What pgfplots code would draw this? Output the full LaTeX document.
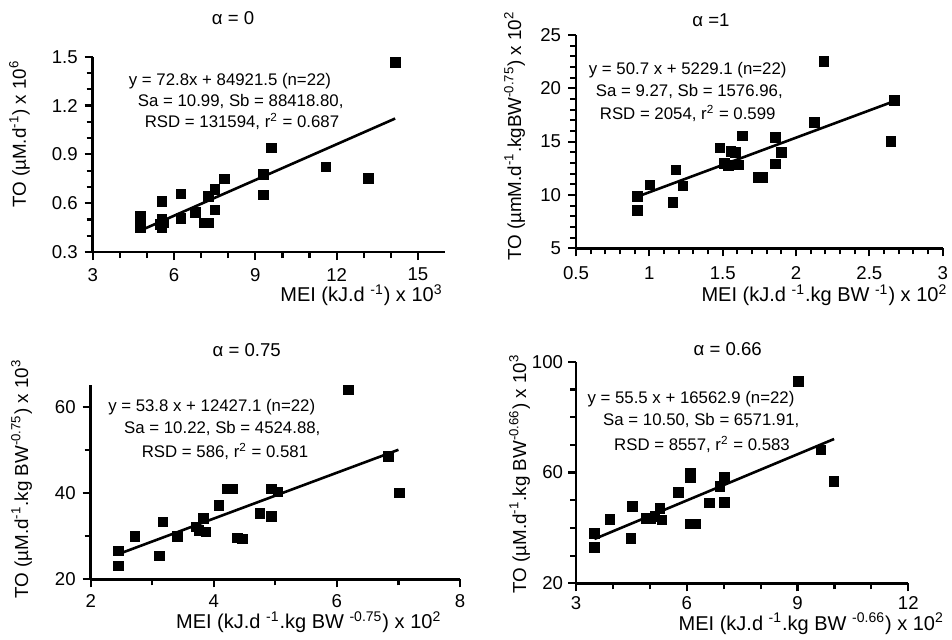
\documentclass[border=0pt]{standalone}
\usepackage{pgfplots}
\pgfplotsset{compat=1.18}
\usepackage{fontspec}
\setmainfont{Liberation Sans}

\newcommand{\ticksize}{\fontsize{9.3}{11}\selectfont}
\newcommand{\labsize}{\fontsize{10}{12}\selectfont}
\newcommand{\ylabsize}{\fontsize{9.4}{11}\selectfont}
\newcommand{\notesize}{\fontsize{8.4}{10}\selectfont}
\newcommand{\sups}[1]{\textsuperscript{#1}}

\pgfplotsset{
  panel/.style={
    scale only axis, anchor=south west, clip=false,
    axis lines=left, axis line style={-, line width=1.3pt},
    tick align=outside, major tick length=4pt, minor tick length=3pt,
    tick style={line width=1.1pt, black},
    tick label style={font=\ticksize},
    /pgf/number format/assume math mode=true,
    enlargelimits=false,
  },
  pts/.style={only marks, mark=square*, mark size=2.4pt, black, mark options={draw=none, fill=black}},
  fit/.style={no marks, black, line width=1.3pt},
}

\begin{document}
\begin{tikzpicture}
\useasboundingbox (0,0) rectangle (476pt,319.5pt);

% alpha = 0
\begin{axis}[panel, at={(46.35pt,193.5pt)}, width=176.15pt, height=97.65pt,
  xmin=3, xmax=16, ymin=0.3, ymax=1.5,
  xtick={3,6,9,12,15}, ytick={0.3,0.6,0.9,1.2,1.5},
  minor x tick num=2, minor y tick num=2,
  x tick label style={yshift=-0.5pt}]
\addplot[pts] coordinates {
  (4.77,0.517) (4.77,0.45) (5.55,0.61) (5.55,0.50) (5.50,0.47) (5.55,0.45)
  (5.60,0.48) (6.26,0.656) (6.26,0.507) (6.80,0.544) (7.12,0.48) (7.27,0.48)
  (7.27,0.64) (7.51,0.685) (7.51,0.558) (7.86,0.749) (9.30,0.775) (9.30,0.65)
  (9.60,0.94) (11.6,0.824) (13.17,0.753) (14.16,1.465) };
\addplot[fit] coordinates { (4.87,0.44) (14.16,1.12) };
\end{axis}

% alpha = 1
\begin{axis}[panel, at={(288pt,195.35pt)}, width=183.35pt, height=106.65pt,
  xmin=0.5, xmax=3, ymin=5, ymax=25,
  xtick={0.5,1,1.5,2,2.5,3}, ytick={5,10,15,20,25},
  minor x tick num=4, minor y tick num=4,
  x tick label style={yshift=-1.5pt}]
\addplot[pts] coordinates {
  (0.918,9.84) (0.918,8.53) (1.005,10.94) (1.16,9.28) (1.18,12.34) (1.23,10.84)
  (1.48,14.4) (1.51,12.97) (1.54,12.75) (1.557,14.06) (1.586,13.97) (1.607,12.81)
  (1.636,15.53) (1.74,11.63) (1.77,11.63) (1.86,15.38) (1.86,12.9) (1.90,13.97)
  (2.127,16.8) (2.19,22.5) (2.67,18.84) (2.648,15.0) };
\addplot[fit] coordinates { (0.918,9.84) (2.67,18.8) };
\end{axis}

% alpha = 0.75
\begin{axis}[panel, at={(45.35pt,29.85pt)}, width=184.65pt, height=97.15pt,
  xmin=2, xmax=8, ymin=20, ymax=65,
  xtick={2,4,6,8}, ytick={20,40,60},
  minor x tick num=1, minor y tick num=1]
\addplot[pts] coordinates {
  (2.45,26.6) (2.45,23.1) (2.72,30.0) (3.12,25.4) (3.17,33.3) (3.41,30.0)
  (3.71,32.1) (3.76,31.3) (3.83,34.1) (3.87,31.0) (4.08,37.1) (4.21,40.9)
  (4.30,40.9) (4.38,29.6) (4.46,29.4) (4.75,35.2) (4.94,40.9) (4.94,34.6)
  (5.04,40.2) (6.19,63.9) (6.84,48.4) (7.02,40.0) };
\addplot[fit] coordinates { (2.48,26.0) (7.0,50.0) };
\end{axis}

% alpha = 0.66
\begin{axis}[panel, at={(288pt,27.85pt)}, width=166.15pt, height=110.8pt,
  xmin=3, xmax=12, ymin=20, ymax=100,
  xtick={3,6,9,12}, ytick={20,60,100},
  minor x tick num=2, minor y tick num=3,
  x tick label style={yshift=1pt}, y tick label style={xshift=1pt}]
\addplot[pts] coordinates {
  (3.50,38.05) (3.50,33.0) (3.92,43.1) (4.49,36.2) (4.53,47.7) (4.90,43.5)
  (5.03,43.5) (5.14,44.1) (5.27,47.1) (5.33,42.9) (5.78,52.9) (6.10,59.7)
  (6.10,58.1) (6.10,41.4) (6.23,41.4) (6.61,49.1) (6.90,54.9) (7.02,58.3)
  (7.02,49.2) (9.03,93.0) (9.63,68.1) (9.99,56.9) };
\addplot[fit] coordinates { (3.5,36.0) (9.99,72.1) };
\end{axis}

% titles
\node[font=\ticksize, anchor=base] at (116.5pt,307.2pt) {α = 0};
\node[font=\ticksize, anchor=base] at (355.5pt,306.2pt) {α =1};
\node[font=\ticksize, anchor=base] at (123.35pt,141.2pt) {α = 0.75};
\node[font=\ticksize, anchor=base] at (363.85pt,142pt) {α = 0.66};

% regression notes
\node[font=\notesize, anchor=base] at (115pt,276.5pt) {y = 72.8x + 84921.5 (n=22)};
\node[font=\notesize, anchor=base] at (120.35pt,266.5pt) {Sa = 10.99, Sb = 88418.80,};
\node[font=\notesize, anchor=base] at (121pt,256pt) {RSD = 131594, r\sups{2} = 0.687};

\node[font=\notesize, anchor=base] at (343.85pt,282.5pt) {y = 50.7 x + 5229.1 (n=22)};
\node[font=\notesize, anchor=base] at (344.65pt,271.5pt) {Sa = 9.27, Sb = 1576.96,};
\node[font=\notesize, anchor=base] at (343.85pt,260pt) {RSD = 2054, r\sups{2} = 0.599};

\node[font=\notesize, anchor=base] at (105.85pt,113.65pt) {y = 53.8 x + 12427.1 (n=22)};
\node[font=\notesize, anchor=base] at (111.15pt,102.85pt) {Sa = 10.22, Sb = 4524.88,};
\node[font=\notesize, anchor=base] at (112.5pt,91pt) {RSD = 586, r\sups{2} = 0.581};

\node[font=\notesize, anchor=base] at (345.5pt,117.65pt) {y = 55.5 x + 16562.9 (n=22)};
\node[font=\notesize, anchor=base] at (350.65pt,106.85pt) {Sa = 10.50, Sb = 6571.91,};
\node[font=\notesize, anchor=base] at (351pt,94.35pt) {RSD = 8557, r\sups{2} = 0.583};

% axis labels
\node[font=\labsize, anchor=base east, inner sep=0pt] at (221.5pt,168.65pt) {MEI (kJ.d \sups{-1}) x 10\sups{3}};
\node[font=\ylabsize, anchor=base, rotate=90, inner sep=0pt] at (13pt,252.5pt) {TO (µM.d\sups{-1}) x 10\sups{6}};

\node[font=\labsize, anchor=base east, inner sep=0pt] at (473.85pt,168.65pt) {MEI (kJ.d \sups{-1}.kg BW \sups{-1}) x 10\sups{2}};
\node[font=\ylabsize, anchor=base, rotate=90, inner sep=0pt] at (260.5pt,251.5pt) {TO (µmM.d\sups{-1}.kgBW\sups{-0.75}) x 10\sups{2}};

\node[font=\labsize, anchor=base east, inner sep=0pt] at (220.85pt,5.35pt) {MEI (kJ.d \sups{-1}.kg BW \sups{-0.75}) x 10\sups{2}};
\node[font=\ylabsize, anchor=base, rotate=90, inner sep=0pt] at (14pt,80pt) {TO (µM.d\sups{-1}.kg BW\sups{-0.75}) x 10\sups{3}};

\node[font=\labsize, anchor=base east, inner sep=0pt] at (472.15pt,4.5pt) {MEI (kJ.d \sups{-1}.kg BW \sups{-0.66}) x 10\sups{2}};
\node[font=\ylabsize, anchor=base, rotate=90, inner sep=0pt] at (263pt,82.5pt) {TO (µM.d\sups{-1}.kg BW\sups{-0.66}) x 10\sups{3}};
\end{tikzpicture}
\end{document}
